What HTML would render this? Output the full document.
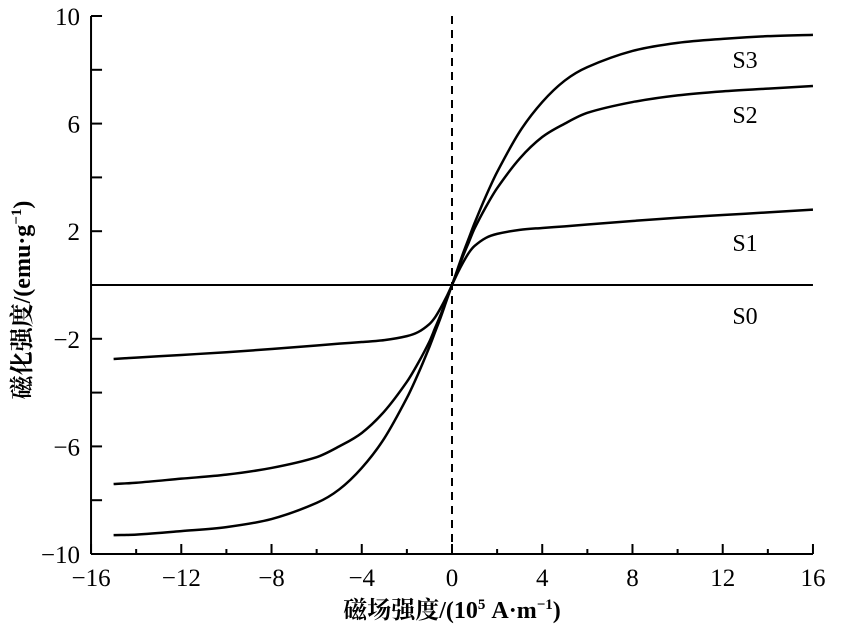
<!DOCTYPE html>
<html><head><meta charset="utf-8"><style>
body{margin:0;background:#fff}
svg text{font-family:"Liberation Serif","Noto Serif CJK SC",serif;fill:#000}
</style></head><body>
<svg id="chart" width="850" height="633" xmlns="http://www.w3.org/2000/svg"></svg>
<script>
const xTicks=[-16,-12,-8,-4,0,4,8,12,16];
const yTicks=[-10,-6,-2,2,6,10];
const fieldX=[-15,-14,-12,-10,-8,-6,-5,-4,-3,-2,-1.5,-1,-0.75,-0.5,-0.25,0,0.25,0.5,0.75,1,1.5,2,3,4,5,6,8,10,12,14,16];
const s1=[-2.75,-2.7,-2.6,-2.5,-2.38,-2.25,-2.18,-2.12,-2.05,-1.9,-1.75,-1.45,-1.2,-0.85,-0.45,0,0.45,0.85,1.2,1.45,1.75,1.9,2.05,2.12,2.18,2.25,2.38,2.5,2.6,2.7,2.8];
const s2=[-7.4,-7.35,-7.2,-7.05,-6.8,-6.4,-6.0,-5.5,-4.7,-3.6,-2.9,-2.1,-1.6,-1.1,-0.55,0,0.55,1.1,1.6,2.1,2.9,3.6,4.7,5.5,6.0,6.4,6.8,7.05,7.2,7.3,7.4];
const s3=[-9.3,-9.28,-9.15,-9.0,-8.7,-8.1,-7.6,-6.8,-5.7,-4.2,-3.3,-2.3,-1.75,-1.2,-0.6,0,0.6,1.2,1.75,2.3,3.3,4.2,5.7,6.8,7.6,8.1,8.7,9.0,9.15,9.25,9.3];
const seriesNames=["S1","S2","S3"];
const labelPos=[[745,243],[745,115],[745,60]];
const X=v=>452+v*22.56, Y=v=>285-v*26.9;
const svg=document.getElementById('chart');
function mk(t,a,txt){const e=document.createElementNS('http://www.w3.org/2000/svg',t);for(const k in a)e.setAttribute(k,a[k]);if(txt!==undefined)e.textContent=txt;svg.appendChild(e);return e;}
let e;
e=mk('line',{x1:X(-16),y1:Y(-10),x2:X(16),y2:Y(-10),stroke:'#000','stroke-width':2});


e=mk('line',{x1:X(-16),y1:Y(10),x2:X(-16),y2:Y(-10),stroke:'#000','stroke-width':2});


for(let v=-16;v<=16;v+=2){const maj=v%4===0;e=mk('line',{x1:X(v),y1:Y(-10),x2:X(v),y2:Y(-10)-(maj?10:5),stroke:'#000','stroke-width':2});

}
for(let v=-10;v<=10;v+=2){e=mk('line',{x1:X(-16),y1:Y(v),x2:X(-16)+11,y2:Y(v),stroke:'#000','stroke-width':2});

}
xTicks.forEach(v=>{e=mk('text',{x:X(v),y:586,'font-size':25,'text-anchor':'middle'},(v<0?'\u2212'+(-v):v));

});
yTicks.forEach(v=>{e=mk('text',{x:80,y:Y(v)+9,'font-size':25,'text-anchor':'end'},(v<0?'\u2212'+(-v):v));

});
e=mk('line',{x1:X(0),y1:Y(10),x2:X(0),y2:Y(-10),stroke:'#000','stroke-width':2,'stroke-dasharray':'8,6'});


e=mk('line',{x1:X(-16),y1:Y(0),x2:X(16),y2:Y(0),stroke:'#000','stroke-width':2});


e=mk('text',{x:745,y:324,'font-size':24,'text-anchor':'middle'},'S0');


[s1,s2,s3].forEach((s,i)=>{
 const pts=fieldX.map((x,j)=>[X(x),Y(s[j])]);
 let d='M'+pts[0][0]+','+pts[0][1];
 for(let j=0;j<pts.length-1;j++){const p0=pts[Math.max(0,j-1)],p1=pts[j],p2=pts[j+1],p3=pts[Math.min(pts.length-1,j+2)];
  const h=p2[0]-p1[0];
  const m1=(p2[1]-p0[1])/(p2[0]-p0[0]), m2=(p3[1]-p1[1])/(p3[0]-p1[0]);
  d+=` C${p1[0]+h/3},${p1[1]+m1*h/3} ${p2[0]-h/3},${p2[1]-m2*h/3} ${p2[0]},${p2[1]}`;}
 e=mk('path',{d:d,fill:'none',stroke:'#000','stroke-width':2.5});
 
 
 e=mk('text',{x:labelPos[i][0],y:labelPos[i][1]+8,'font-size':24,'text-anchor':'middle'},seriesNames[i]);
 
 
});
e=mk('text',{x:452,y:618,'font-size':24,'text-anchor':'middle','font-weight':'bold'});
e.innerHTML='磁场强度/(10<tspan font-size="15" dy="-9">5</tspan><tspan dy="9"> A·m</tspan><tspan font-size="15" dy="-9">−1</tspan><tspan dy="9">)</tspan>';


e=mk('text',{x:0,y:0,'font-size':24,'text-anchor':'middle','font-weight':'bold',transform:'translate(30,300) rotate(-90)'});
e.innerHTML='磁化强度/(emu·g<tspan font-size="15" dy="-9">−1</tspan><tspan dy="9">)</tspan>';


</script>
</body></html>
